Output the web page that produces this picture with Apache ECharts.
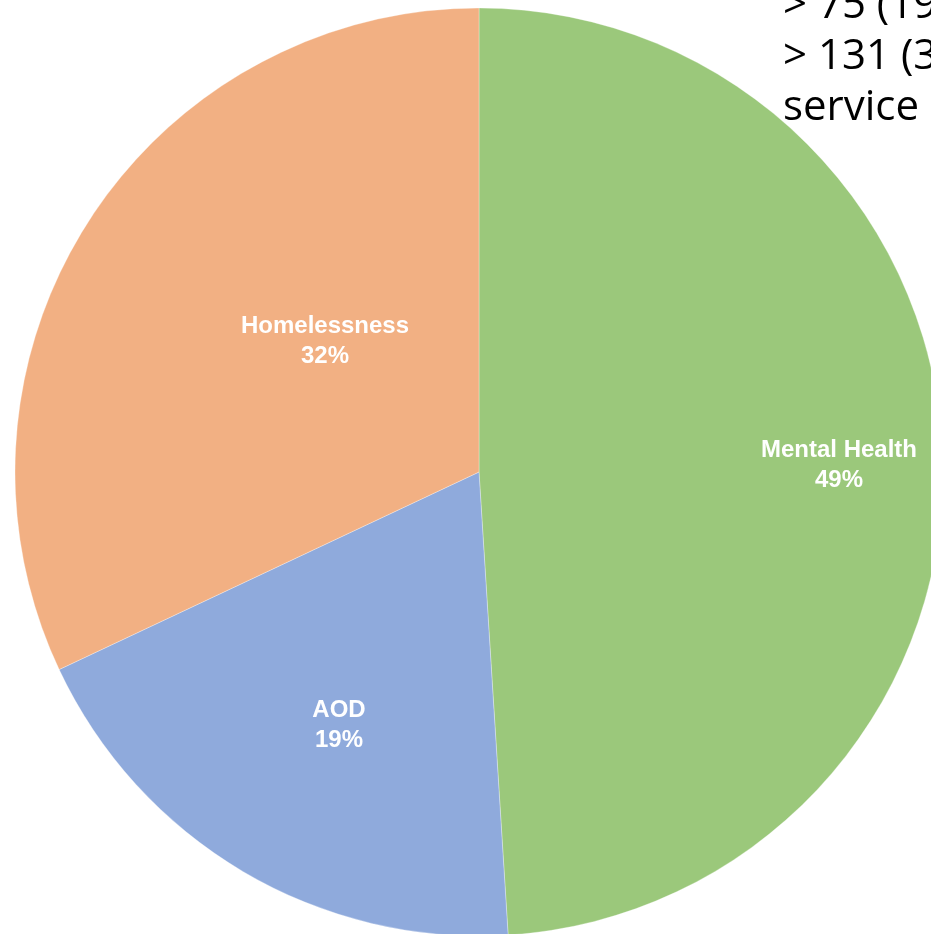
<!DOCTYPE html>
<html>
<head>
<meta charset="utf-8">
<script src="https://cdn.jsdelivr.net/npm/echarts@6/dist/echarts.min.js"></script>
<style>
  html, body { margin: 0; padding: 0; background: #ffffff; }
  #chart { width: 931px; height: 934px; }
</style>
</head>
<body>
<div id="chart"></div>
<script>
// Service categories and their share of clients (%)
const categories = ['Mental Health', 'AOD', 'Homelessness'];
const shares = [49, 19, 32];
const sliceColors = ['#9BC87B', '#8FAADC', '#F2B083'];

// Note text beside the pie (runs off the right edge)
const noteLines = ['> 75 (19%)', '> 131 (32%)', 'service'];

// Where each category label sits (px)
const labelSpots = [[839, 465], [339, 725], [325, 341]];

const chart = echarts.init(document.getElementById('chart'), null, { renderer: 'canvas' });

const option = {
  animation: false,
  backgroundColor: '#ffffff',
  graphic: noteLines.map((t, i) => ({
    type: 'text',
    left: 783,
    top: -15 + i * 51,
    z: 10,
    style: {
      text: t,
      fill: '#000000',
      font: '42px "Open Sans", sans-serif'
    }
  })),
  series: [{
    type: 'pie',
    center: [479, 472],
    radius: 464,
    startAngle: 90,
    clockwise: true,
    avoidLabelOverlap: false,
    itemStyle: { borderColor: 'rgba(255,255,255,0.5)', borderWidth: 0.6 },
    label: {
      show: true,
      position: 'inside',
      formatter: p => p.name + '\n' + p.value + '%',
      color: '#ffffff',
      fontFamily: '"Liberation Sans", Arial, sans-serif',
      fontWeight: 'bold',
      fontSize: 24,
      lineHeight: 30,
      align: 'center'
    },
    labelLayout: params => ({
      x: labelSpots[params.dataIndex][0],
      y: labelSpots[params.dataIndex][1],
      align: 'center',
      verticalAlign: 'middle'
    }),
    labelLine: { show: false },
    emphasis: { disabled: true },
    data: categories.map((c, i) => ({
      name: c,
      value: shares[i],
      itemStyle: { color: sliceColors[i] }
    }))
  }]
};

chart.setOption(option);
</script>
</body>
</html>
